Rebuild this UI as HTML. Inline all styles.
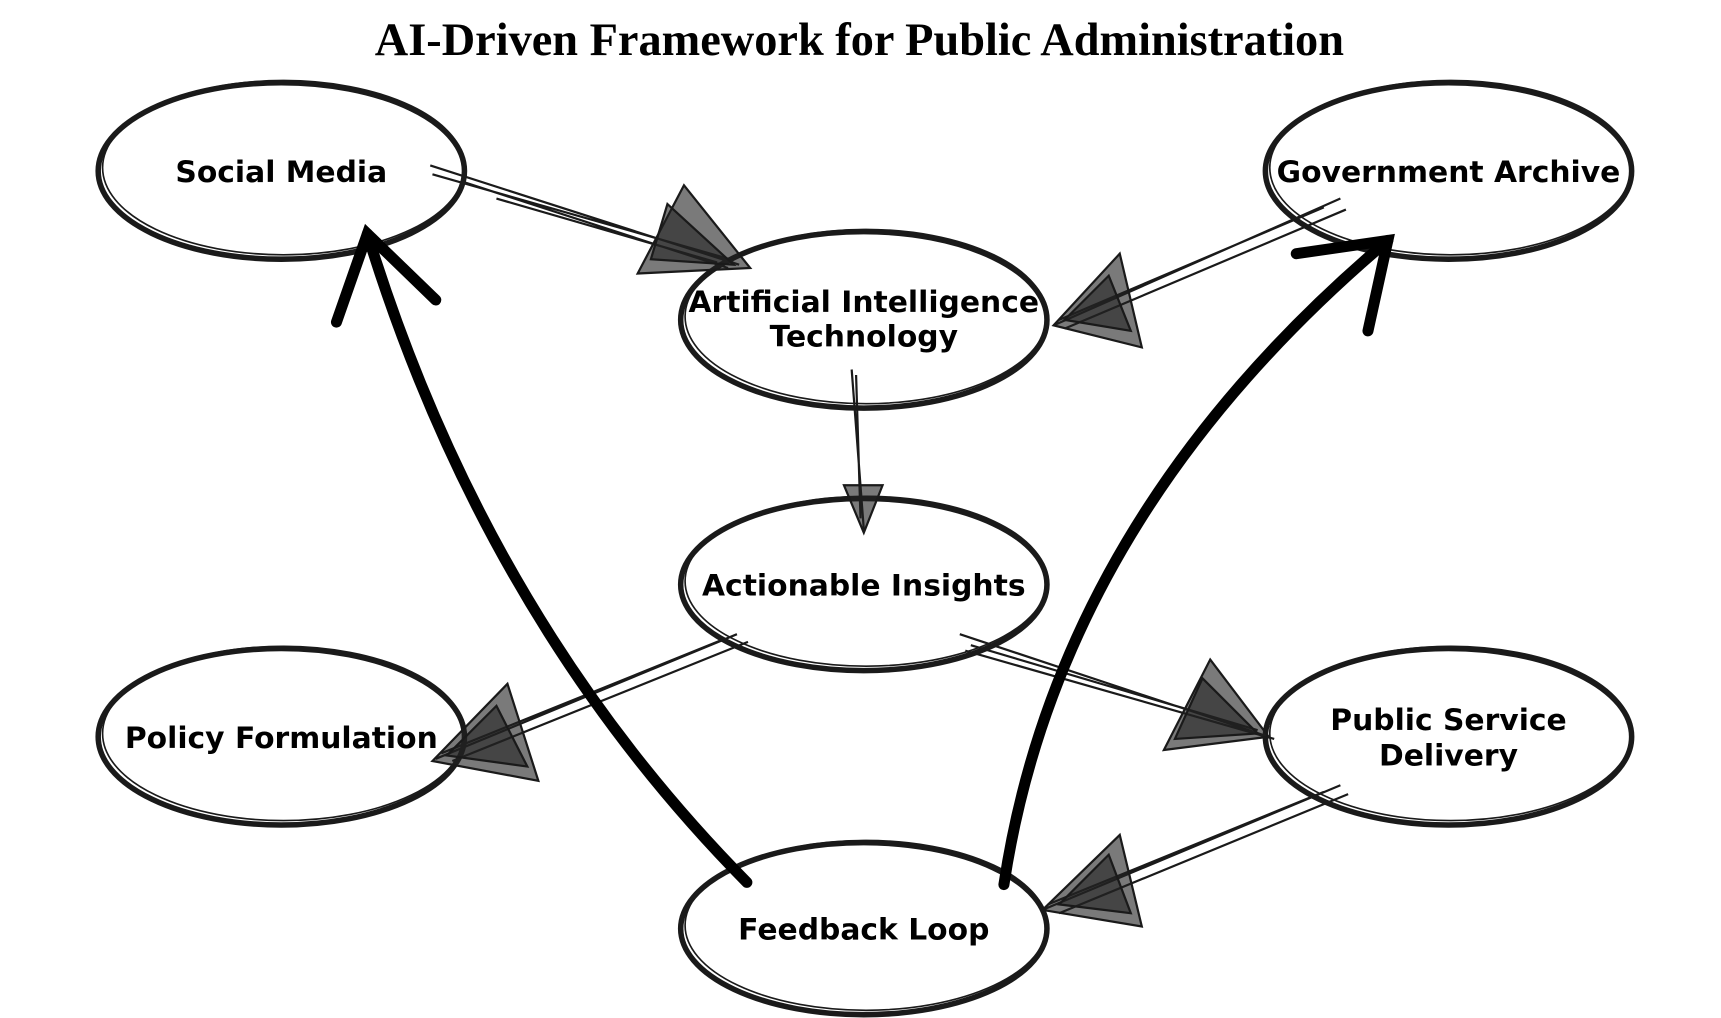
<!DOCTYPE html>
<html><head><style>
html,body{margin:0;padding:0;background:#fff;}
svg{display:block}
text{font-family:"DejaVu Sans","Liberation Sans",sans-serif;font-weight:bold;}
</style></head><body>
<svg width="1721" height="1018" viewBox="0 0 1560 923" preserveAspectRatio="none" xmlns="http://www.w3.org/2000/svg">
<rect width="1560" height="923" fill="#fff"/>
<text x="779" y="50" text-anchor="middle" style="font-family:'Liberation Serif',serif;font-weight:bold" font-size="42">AI-Driven Framework for Public Administration</text>
<g fill="none" stroke="#1a1a1a">
<g stroke-width="5">
<ellipse cx="255" cy="155" rx="166" ry="80"/>
<ellipse cx="1313" cy="155" rx="166" ry="80"/>
<ellipse cx="783" cy="290" rx="166" ry="80"/>
<ellipse cx="783" cy="530" rx="166" ry="78"/>
<ellipse cx="255" cy="668" rx="166" ry="80"/>
<ellipse cx="1313" cy="668" rx="166" ry="80"/>
<ellipse cx="783" cy="842" rx="166" ry="78"/>
</g>
<g stroke-width="1.5">
<ellipse cx="257" cy="152" rx="164" ry="79"/>
<ellipse cx="1315" cy="152" rx="164" ry="79"/>
<ellipse cx="785" cy="287" rx="164" ry="79"/>
<ellipse cx="785" cy="527" rx="164" ry="77"/>
<ellipse cx="257" cy="665" rx="164" ry="79"/>
<ellipse cx="1315" cy="665" rx="164" ry="79"/>
<ellipse cx="785" cy="839" rx="164" ry="77"/>
</g>
<g stroke-width="2">
<path d="M390 150 L670 240 M392 158 L665 236 M420 165 L660 243 M450 180 L650 238"/>
<path d="M1215 180 L955 295 M1200 188 L960 290 M1220 190 L965 298"/>
<path d="M772 335 L783 480 M776 340 L780 470"/>
<path d="M668 575 L395 688 M655 580 L400 683 M678 582 L410 690"/>
<path d="M870 575 L1150 668 M880 585 L1140 662 M875 590 L1155 670"/>
<path d="M1215 712 L945 825 M1200 718 L950 820 M1222 720 L960 828"/>
</g>
<g stroke-width="2" fill="#222" fill-opacity="0.6">
<path d="M620 168 L680 243 L578 248 Z"/><path d="M605 185 L665 240 L590 235 Z"/>
<path d="M1015 230 L955 295 L1035 315 Z"/><path d="M1005 250 L965 290 L1025 300 Z"/>
<path d="M765 440 L800 440 L783 483 Z"/>
<path d="M460 620 L392 690 L488 708 Z"/><path d="M450 640 L405 685 L478 695 Z"/>
<path d="M1097 598 L1150 668 L1055 680 Z"/><path d="M1090 615 L1140 665 L1065 670 Z"/>
<path d="M1015 757 L945 825 L1035 840 Z"/><path d="M1005 775 L960 820 L1025 828 Z"/>
</g>
<g stroke="#000" stroke-width="10" stroke-linecap="round">
<path d="M677 800 Q440 560 333 212"/>
<path d="M305 292 L333 212 L395 272"/>
<path d="M910 802 Q960 470 1258 218"/>
<path d="M1175 230 L1258 218 L1240 300"/>
</g>
</g>
<g font-size="27" fill="#000" text-anchor="middle">
<text x="255" y="165">Social Media</text>
<text x="1313" y="165">Government Archive</text>
<text x="783" y="283">Artificial Intelligence</text>
<text x="783" y="314">Technology</text>
<text x="783" y="540">Actionable Insights</text>
<text x="255" y="678">Policy Formulation</text>
<text x="1313" y="662">Public Service</text>
<text x="1313" y="694">Delivery</text>
<text x="783" y="852">Feedback Loop</text>
</g>
</svg>
</body></html>
